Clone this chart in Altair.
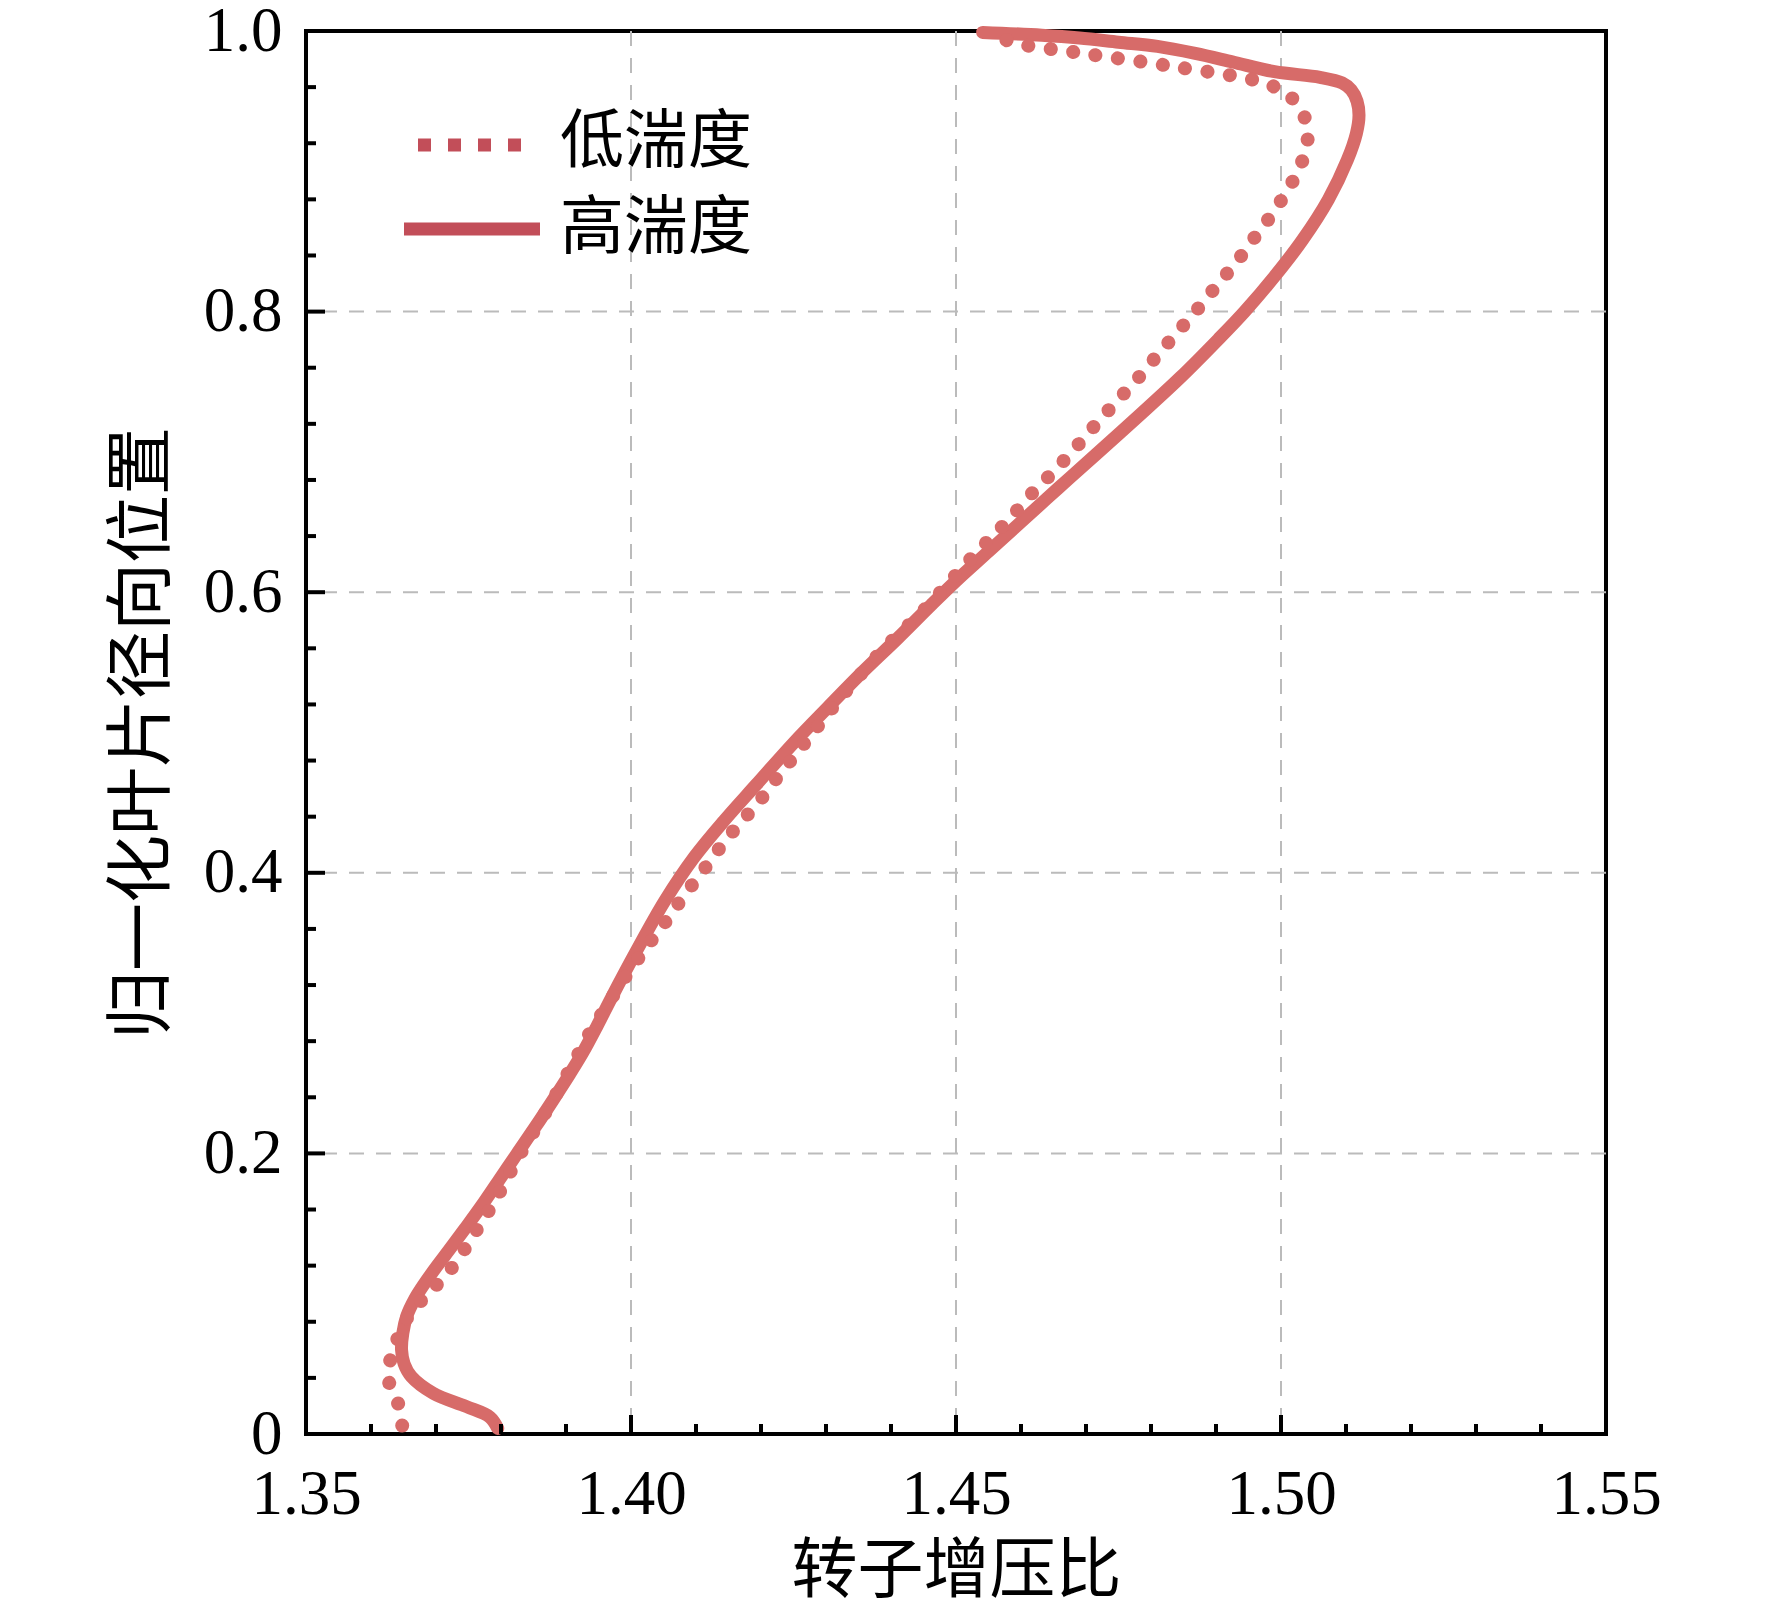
import altair as alt
import pandas as pd

# ---------------- data ----------------
x_tick_values = [1.35, 1.40, 1.45, 1.50, 1.55]
y_tick_values = [0.0, 0.2, 0.4, 0.6, 0.8, 1.0]
x_major_inner = [1.40, 1.45, 1.50]
x_minor = [1.36, 1.37, 1.38, 1.39, 1.41, 1.42, 1.43, 1.44, 1.46, 1.47, 1.48, 1.49,
           1.51, 1.52, 1.53, 1.54]
y_major_inner = [0.2, 0.4, 0.6, 0.8]
y_minor = [0.04, 0.08, 0.12, 0.16, 0.24, 0.28, 0.32, 0.36, 0.44, 0.48, 0.52, 0.56,
           0.64, 0.68, 0.72, 0.76, 0.84, 0.88, 0.92, 0.96]

legend_labels = ["低湍度", "高湍度"]

# 高湍度 (solid)
high_x = [1.3795, 1.3783, 1.3747, 1.3696, 1.3662, 1.3651, 1.3647, 1.3649, 1.3655, 1.3667,
          1.3682, 1.3702, 1.3720, 1.3744, 1.3769, 1.3797, 1.3825, 1.3853, 1.3880, 1.3905,
          1.3926, 1.3948, 1.3970, 1.4008, 1.4052, 1.4097, 1.4143, 1.4193, 1.4251, 1.4303,
          1.4356, 1.4410, 1.4462, 1.4500, 1.4550, 1.4600, 1.4657, 1.4715, 1.4782, 1.4845,
          1.4903, 1.4944, 1.4990, 1.5033, 1.5073, 1.5102, 1.5116, 1.5120, 1.5117, 1.5108,
          1.5094, 1.5060, 1.4990, 1.4925, 1.4868, 1.4810, 1.4750, 1.4690, 1.4632, 1.4541]
high_y = [0.004, 0.012, 0.0195, 0.029, 0.041, 0.050, 0.060, 0.072, 0.084, 0.096,
          0.107, 0.120, 0.131, 0.146, 0.162, 0.181, 0.200, 0.219, 0.238, 0.256,
          0.272, 0.291, 0.311, 0.344, 0.380, 0.411, 0.437, 0.463, 0.493, 0.518,
          0.543, 0.567, 0.591, 0.608, 0.629, 0.650, 0.674, 0.698, 0.726, 0.753,
          0.780, 0.800, 0.825, 0.851, 0.880, 0.908, 0.927, 0.940, 0.950, 0.958,
          0.963, 0.967, 0.971, 0.978, 0.984, 0.989, 0.992, 0.995, 0.997, 0.999]

# 低湍度 (dotted)
low_x = [1.3648, 1.3645, 1.3629, 1.3629, 1.3640, 1.3660, 1.3688, 1.3722, 1.3762, 1.3795,
         1.3830, 1.3876, 1.3918, 1.3938, 1.3960, 1.3983, 1.4005, 1.4027, 1.4053, 1.4082,
         1.4110, 1.4137, 1.4165, 1.4194, 1.4225, 1.4256, 1.4285, 1.4330, 1.4390, 1.4446,
         1.4480, 1.4513, 1.4548, 1.4580, 1.4614, 1.4648, 1.4682, 1.4714, 1.4747, 1.4779,
         1.4810, 1.4840, 1.4872, 1.4902, 1.4931, 1.4958, 1.4984, 1.5008, 1.5028, 1.5040,
         1.5039, 1.5015, 1.4974, 1.4844, 1.4696, 1.4596, 1.4550]
low_y = [0.006, 0.018, 0.034, 0.051, 0.067, 0.086, 0.100, 0.117, 0.145, 0.170,
         0.200, 0.235, 0.270, 0.287, 0.303, 0.320, 0.335, 0.349, 0.365, 0.384,
         0.401, 0.418, 0.434, 0.449, 0.468, 0.486, 0.503, 0.529, 0.560, 0.585,
         0.602, 0.619, 0.636, 0.651, 0.669, 0.685, 0.702, 0.719, 0.736, 0.752,
         0.769, 0.785, 0.802, 0.819, 0.835, 0.852, 0.868, 0.885, 0.902, 0.919,
         0.935, 0.953, 0.963, 0.974, 0.984, 0.991, 0.998]

# ---------------- layout / style ----------------
W, H = 1300, 1403
LINE_COLOR = "#d76b69"
LEG_COLOR = "#c24e59"
GRID_COLOR = "#bbbbbb"
SERIF = "Liberation Serif"
CJK = "Noto Sans CJK SC"

xscale = alt.Scale(domain=[1.35, 1.55], nice=False, zero=False)
yscale = alt.Scale(domain=[0.0, 1.0], nice=False, zero=False)

high_df = pd.DataFrame({"x": high_x, "y": high_y, "i": range(len(high_x))})
low_df = pd.DataFrame({"x": low_x, "y": low_y, "i": range(len(low_x))})

x_axis = alt.Axis(values=x_tick_values, format=".2f", title="转子增压比",
                  titleFontSize=66, titleX=W / 2, titleY=137,
                  titleBaseline="middle", titleAlign="center",
                  labelPadding=29, labelFlush=False)
y_axis = alt.Axis(values=y_tick_values,
                  labelExpr="datum.value == 0 ? '0' : format(datum.value, '.1f')",
                  title="归一化叶片径向位置", titleFontSize=68, titleAngle=270,
                  titleX=-163, titleY=H / 2, titleBaseline="middle", titleAlign="center",
                  labelPadding=24, labelFlush=False)


def X(field):
    return alt.X(field, scale=xscale, axis=x_axis)


def Y(field):
    return alt.Y(field, scale=yscale, axis=y_axis)


# dashed grid (interior major values only)
xgrid = alt.Chart(pd.DataFrame({"x": x_major_inner})).mark_rule(
    color=GRID_COLOR, strokeWidth=2, strokeDash=[15, 12]).encode(x=X("x:Q"))
ygrid = alt.Chart(pd.DataFrame({"y": y_major_inner})).mark_rule(
    color=GRID_COLOR, strokeWidth=2, strokeDash=[15, 12]).encode(y=Y("y:Q"))

high_line = alt.Chart(high_df).mark_line(
    color=LINE_COLOR, strokeWidth=13, strokeCap="round", strokeJoin="round",
    interpolate="catmull-rom"
).encode(x=X("x:Q"), y=Y("y:Q"), order="i:Q")

low_line = alt.Chart(low_df).mark_line(
    color=LINE_COLOR, strokeWidth=14, strokeCap="round", strokeDash=[0.1, 22.5],
    interpolate="catmull-rom"
).encode(x=X("x:Q"), y=Y("y:Q"), order="i:Q")

# inward ticks
xminor_rules = alt.Chart(pd.DataFrame({"x": x_minor})).mark_rule(color="black", strokeWidth=4).encode(
    x=X("x:Q"), y=alt.value(H), y2=alt.value(H - 10))
xmajor_rules = alt.Chart(pd.DataFrame({"x": x_major_inner})).mark_rule(color="black", strokeWidth=4).encode(
    x=X("x:Q"), y=alt.value(H), y2=alt.value(H - 19))
yminor_rules = alt.Chart(pd.DataFrame({"y": y_minor})).mark_rule(color="black", strokeWidth=4).encode(
    y=Y("y:Q"), x=alt.value(0), x2=alt.value(10))
ymajor_rules = alt.Chart(pd.DataFrame({"y": y_major_inner})).mark_rule(color="black", strokeWidth=4).encode(
    y=Y("y:Q"), x=alt.value(0), x2=alt.value(19))

# legend
leg_low_df = pd.DataFrame({"label": [legend_labels[0]]})
leg_high_df = pd.DataFrame({"label": [legend_labels[1]]})
leg_low_sym = alt.Chart(leg_low_df).mark_rule(
    color=LEG_COLOR, strokeWidth=13, strokeDash=[13, 17], strokeCap="butt"
).encode(x=alt.value(112), x2=alt.value(222), y=alt.value(114))
leg_high_sym = alt.Chart(leg_high_df).mark_rule(
    color=LEG_COLOR, strokeWidth=13, strokeCap="butt"
).encode(x=alt.value(98), x2=alt.value(234), y=alt.value(198))
leg_low_txt = alt.Chart(leg_low_df).mark_text(
    align="left", baseline="middle", font=CJK, fontSize=64, color="black"
).encode(x=alt.value(254), y=alt.value(112), text="label:N")
leg_high_txt = alt.Chart(leg_high_df).mark_text(
    align="left", baseline="middle", font=CJK, fontSize=64, color="black"
).encode(x=alt.value(254), y=alt.value(198), text="label:N")

chart = alt.layer(
    xgrid, ygrid,
    high_line, low_line,
    xminor_rules, xmajor_rules, yminor_rules, ymajor_rules,
    leg_low_sym, leg_high_sym, leg_low_txt, leg_high_txt,
).properties(
    width=W, height=H,
    autosize=alt.AutoSizeParams(type="none"),
    padding={"left": 298, "top": 23, "right": 150, "bottom": 175},
    background="white",
).configure_view(
    stroke="black", strokeWidth=4
).configure_axis(
    labelFont=SERIF, labelFontSize=63, labelColor="black",
    titleFont=CJK, titleColor="black", titleFontWeight="normal",
    grid=False, domain=False, ticks=False, tickSize=0,
)

chart.save("out.html", embed_options={"renderer": "svg", "actions": False})
